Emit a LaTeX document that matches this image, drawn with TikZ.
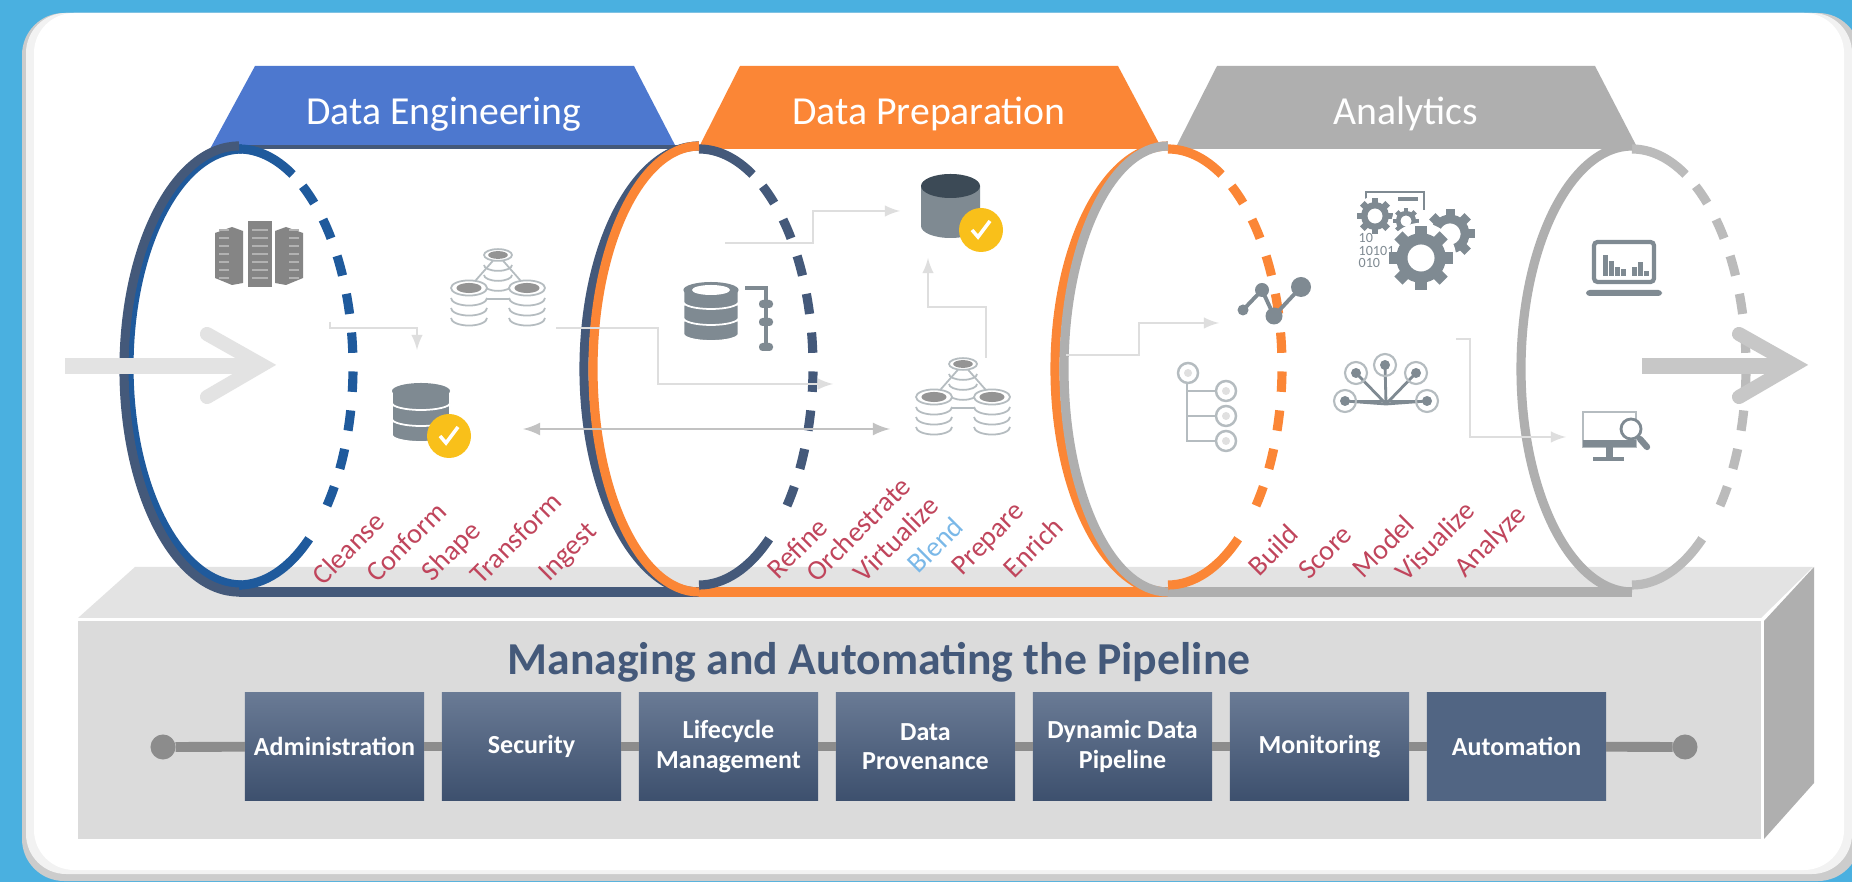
\documentclass[tikz,border=0pt]{standalone}
\usepackage{fontspec}
\setmainfont{Carlito}
\usepackage{tikz}
\usetikzlibrary{arrows}
\definecolor{skybg}{HTML}{4AB0E0}
\definecolor{slate}{HTML}{44597A}
\definecolor{dashblue}{HTML}{1F5A9C}
\definecolor{pipeorange}{HTML}{FB8636}
\definecolor{pipegray}{HTML}{AFAFAF}
\definecolor{engblue}{HTML}{4D78CF}
\definecolor{iconGray}{HTML}{7F8A92}
\definecolor{iconDark}{HTML}{3C4A56}
\definecolor{iconLight}{HTML}{B5BCC0}
\definecolor{wordred}{HTML}{C0455C}
\definecolor{wordblue}{HTML}{7AB8E8}
\definecolor{checkgold}{HTML}{F9C01A}
\tikzset{
    phase/.style={text=white, font=\fontsize{11.3}{13}\selectfont},
    word/.style={text=wordred, rotate=45, font=\fontsize{8}{9}\selectfont},
    stagebox/.style={minimum width=1.79cm, minimum height=1.07cm, inner sep=0pt, outer sep=0pt, align=center, text=white, top color=#1, bottom color=slate!90!black, font=\fontsize{7.4}{8.4}\selectfont\bfseries},
    stagebox/.default={slate!80!white},
    railend/.style={circle, fill=black!45, minimum size=0.25cm, inner sep=0pt, outer sep=0pt},
    side/.style={line width=2.6pt},
    sidedash/.style={line width=2.6pt, dash pattern=on 5.8pt off 5.3pt},
    thinarrow/.style={draw=black!13, line width=0.5pt, -latex},
    railline/.style={draw=black!45, line width=2.8pt},
    dbstack/.pic={
        \foreach \k in {-16,0,16}{
            \fill[iconGray, draw=white, line width=0.5pt] (-29,\k+6) -- (-29,\k-6) arc[start angle=180, end angle=360, x radius=29, y radius=7] -- (29,\k+6) arc[start angle=0, end angle=180, x radius=29, y radius=7] -- cycle;
        }
        \fill[iconGray] (0,22) ellipse (29 and 8);
    },
    dbring/.pic={
        \draw[iconLight, line width=0.5pt, fill=white] (0,0) ellipse (#1 and 0.42*#1);
        \fill[black!42] (0,0) ellipse (0.7*#1 and 0.28*#1);
        \foreach \k in {10,20,30}{
            \draw[iconLight, line width=0.5pt] (-#1,-\k) arc[start angle=180, end angle=360, x radius=#1, y radius=0.42*#1];
        }
    },
    cluster/.pic={
        \draw[iconLight, line width=0.5pt] (0,0) -- (-29,-33) (0,0) -- (29,-33) (-12,-44) -- (12,-44);
        \pic at (0,0) {dbring=14};
        \pic at (-29,-33) {dbring=18};
        \pic at (29,-33) {dbring=18};
    },
    checkbadge/.pic={
        \fill[checkgold] (0,0) circle (22);
        \draw[white, line width=1pt] (-9,0) -- (-3,-7) -- (9,9);
    },
    gear/.pic={
        \fill[white] (0,0) circle (1.1*#1);
        \foreach \a in {0,45,...,315}{
            \fill[iconGray, rotate=\a] (-0.18*#1,0.7*#1) rectangle (0.18*#1,#1);
        }
        \draw[iconGray, line width=0.1pt*#1] (0,0) circle (0.6*#1);
    }
}
\begin{document}
\begin{tikzpicture}[x=0.01cm, y=0.01cm]
\fill[skybg] (0,0) rectangle (1852,882);
\useasboundingbox (0,0) rectangle (1852,882);
\fill[black!20, rounded corners=0.42cm] (22,1) rectangle (1860,869);
\fill[black!5, rounded corners=0.4cm] (26,8) rectangle (1852,869);
\fill[white, rounded corners=0.4cm] (34,12) rectangle (1844,869);
\fill[black!11] (78,264) -- (135,315) -- (1813,315) -- (1761,264) -- cycle;
\fill[black!14] (78,43) rectangle (1761,261);
\fill[pipegray] (1764,261) -- (1814,315) -- (1814,99) -- (1764,43) -- cycle;
\fill[engblue] (255,816) -- (634,816) -- (677,733) -- (210,733) -- cycle;
\fill[pipeorange] (740,816) -- (1118,816) -- (1162,733) -- (698,733) -- cycle;
\fill[pipegray] (1217,816) -- (1595,816) -- (1638,733) -- (1175,733) -- cycle;
\node[phase] (engLabel) at (444,768) {Data Engineering};
\node[phase] (prepLabel) at (929,768) {Data Preparation};
\node[phase] (anaLabel) at (1406,768) {Analytics};
\draw[slate, line width=1.2pt] (239,735) -- (699,735);
\draw[pipeorange, line width=1.2pt] (699,735) -- (1168,735);
\draw[pipegray, line width=1.2pt] (1168,735) -- (1632,735);
\draw[side, slate] (239,290) -- (699,290);
\draw[side, pipeorange] (699,290) -- (1168,290);
\draw[side, pipegray] (1168,290) -- (1632,290);
\foreach \cx/\c in {239/dashblue, 699/slate, 1168/pipeorange, 1632/pipegray!85}{
    \draw[side, \c] (\cx,733) arc[start angle=90, end angle=62, x radius=114, y radius=218];
    \draw[side, \c] (\cx,297) arc[start angle=-90, end angle=-52, x radius=114, y radius=218];
    \draw[sidedash, \c] ({\cx+114*cos(56)},{515+218*sin(56)}) arc[start angle=56, end angle=-44, x radius=114, y radius=218];
}
\draw[side, dashblue] (242,733) arc[start angle=90, end angle=270, x radius=113, y radius=218];
\draw[side, slate] (239,736) arc[start angle=90, end angle=270, x radius=115, y radius=223];
\foreach \cx/\r/\c in {699/115/slate, 699/106/pipeorange, 1168/113/pipeorange, 1168/104/pipegray, 1632/111/pipegray}{
    \draw[side, \c] (\cx,736) arc[start angle=90, end angle=270, x radius=\r, y radius=223];
}
\coordinate (inTail) at (65,516);
\coordinate (inHead) at (252,516);
\coordinate (inUp) at (207,548);
\coordinate (inTip) at (262,517);
\coordinate (inDown) at (207,485);
\draw[black!11, line width=4.8pt] (inTail) -- (inHead);
\draw[black!11, line width=4pt, line cap=round] (inUp) -- (inTip) -- (inDown);
\coordinate (outTail) at (1642,516);
\coordinate (outHead) at (1785,516);
\coordinate (outUp) at (1739,548);
\coordinate (outTip) at (1794,517);
\coordinate (outDown) at (1739,485);
\draw[black!22, line width=4.8pt] (outTail) -- (outHead);
\draw[black!22, line width=4pt, line cap=round] (outUp) -- (outTip) -- (outDown);
\coordinate (cleanA) at (330,560);
\coordinate (cleanB) at (417,532);
\draw[thinarrow] (cleanA) -- ++(0,-6) -| (cleanB);
\coordinate (shapeA) at (556,554);
\coordinate (shapeB) at (833,498);
\draw[thinarrow] (shapeA) -- ++(102,0) |- (shapeB);
\coordinate (syncA) at (523,453);
\coordinate (syncB) at (890,453);
\draw[draw=black!24, line width=0.7pt, latex-latex] (syncA) -- (syncB);
\coordinate (refineA) at (725,639);
\coordinate (refineB) at (900,671);
\draw[thinarrow] (refineA) -- ++(88,0) |- (refineB);
\coordinate (prepA) at (986,524);
\coordinate (prepB) at (928,624);
\draw[thinarrow] (prepA) -- ++(0,51) -| (prepB);
\coordinate (buildA) at (1066,527);
\coordinate (buildB) at (1219,559);
\draw[thinarrow] (buildA) -- ++(73,0) |- (buildB);
\coordinate (vizA) at (1456,543);
\coordinate (vizB) at (1566,445);
\draw[thinarrow] (vizA) -- ++(14,0) |- (vizB);
\fill[black!48] (248,595) rectangle (272,661);
\fill[black!48] (215,649) -- (232,655) -- (243,651) -- (243,599) -- (232,597) -- (215,604) -- cycle;
\fill[black!48] (303,649) -- (286,655) -- (275,651) -- (275,599) -- (286,597) -- (303,604) -- cycle;
\foreach \y in {604,612,...,652}{
    \draw[black!30, line width=0.4pt] (252,\y) -- (268,\y);
    \draw[black!30, line width=0.4pt] (219,\y) -- (229,\y);
    \draw[black!30, line width=0.4pt] (289,\y) -- (299,\y);
}
\pic at (498,627) {cluster};
\pic at (421,469) {dbstack};
\pic at (449,446) {checkbadge};
\pic at (963,518) {cluster};
\pic[xscale=0.95] at (711,570) {dbstack};
\fill[white] (711,592) ellipse (19 and 5);
\draw[iconGray, line width=1pt] (745,594) -- (766,594) -- (766,535);
\foreach \y in {578,560,535}{
    \fill[iconGray, rounded corners=1pt] (759,\y-4) rectangle (773,\y+4);
}
\fill[iconGray] (921,696) -- (921,656) arc[start angle=180, end angle=360, x radius=29.5, y radius=12] -- (980,696) -- cycle;
\fill[iconDark] (950.5,696) ellipse (29.5 and 12);
\pic at (981,652) {checkbadge};
\draw[iconGray, line width=1.1pt] (1243,572) -- (1262,592) -- (1274,566) -- (1301,595);
\foreach \x/\y/\r in {1243/572/5.5, 1262/592/7, 1274/566/8.5, 1301/595/10}{
    \fill[iconGray] (\x,\y) circle (\r);
}
\draw[iconGray, line width=0.6pt] (1366,681) -- (1366,690) -- (1424,690) -- (1424,672);
\draw[iconGray, line width=1pt] (1398,683) -- (1418,683);
\pic at (1450,648) {gear=25};
\pic at (1375,666) {gear=18};
\pic at (1406,661) {gear=13};
\pic at (1421,624) {gear=32};
\node[anchor=west, inner sep=0pt, text=iconGray, font=\fontsize{4}{4}\selectfont] (binA) at (1358,644) {10};
\node[anchor=west, inner sep=0pt, text=iconGray, font=\fontsize{4}{4}\selectfont] (binB) at (1358,631) {10101};
\node[anchor=west, inner sep=0pt, text=iconGray, font=\fontsize{4}{4}\selectfont] (binC) at (1358,619) {010};
\draw[iconLight, line width=0.7pt] (1187,499) -- (1187,441) -- (1216,441) (1187,491) -- (1216,491) (1187,466) -- (1216,466);
\foreach \y in {491,466,441}{
    \draw[iconLight, line width=0.7pt] (1226,\y) circle (10);
    \fill[black!12] (1226,\y) circle (4);
}
\draw[iconLight, line width=0.7pt] (1188,509) circle (10);
\fill[black!12] (1188,509) circle (4);
\draw[iconGray, line width=0.8pt] (1345,481) -- (1427,481);
\foreach \x/\y in {1345/481, 1427/481, 1356/509, 1385/517, 1416/509}{
    \draw[iconGray, line width=0.8pt] (1386,478) -- (\x,\y);
    \draw[iconLight, line width=0.6pt] (\x,\y) circle (11);
    \fill[iconGray] (\x,\y) circle (5);
}
\draw[iconGray, line width=1.2pt, rounded corners=1pt] (1594,600) -- (1594,640) -- (1654,640) -- (1654,600) -- cycle;
\foreach \x/\h in {1603/21, 1609/15, 1615/9, 1621/7, 1632/9, 1638/14, 1644/5}{
    \fill[iconGray] (\x,606) rectangle (\x+5,606+\h);
}
\fill[iconGray, rounded corners=1pt] (1586,586) rectangle (1662,592);
\draw[iconLight, line width=0.6pt] (1583,470) rectangle (1636,435);
\fill[iconGray] (1583,442) rectangle (1636,435);
\fill[iconGray] (1606,435) rectangle (1613,424);
\fill[iconGray] (1593,425) rectangle (1624,421);
\draw[iconGray, line width=1.8pt, line cap=round] (1640,443) -- (1647,435);
\draw[iconGray, fill=white, line width=0.8pt] (1631,453) circle (10);
\foreach \x/\y/\labeltext in {348/334/Cleanse, 406/340/Conform, 452/330/Shape, 516/344/Transform, 569/329/Ingest, 797/334/Refine, 858/353/Orchestrate, 896/343/Virtualize, 989/342/Prepare, 1033/335/Enrich, 1273/332/Build, 1325/330/Score, 1383/336/Model, 1435/341/Visualize, 1491/340/Analyze}{
    \node[word] (\labeltext) at (\x,\y) {\labeltext};
}
\node[word, text=wordblue] (Blend) at (935,337) {Blend};
\node[text=slate, font=\fontsize{13}{15}\selectfont\bfseries] (pipeTitle) at (879,220) {Managing and Automating the Pipeline};
\foreach \i/\x/\labeltext in {1/245/Administration, 2/442/Security, 3/639/{Lifecycle\\Management}, 4/836/{Data\\Provenance}, 5/1033/{Dynamic Data\\Pipeline}, 6/1230/Monitoring}{
    \node[stagebox] (box\i) at (\x+89.5,135.5) {\labeltext};
}
\node[stagebox, top color=slate!93!white, bottom color=slate!93!white] (box7) at (1516.5,135.5) {Automation};
\node[railend] (railL) at (163,135) {};
\node[railend] (railR) at (1685,135) {};
\foreach \a/\b in {railL/box1, box1/box2, box2/box3, box3/box4, box4/box5, box5/box6, box6/box7, box7/railR}{
    \draw[railline] (\a) -- (\b);
}
\end{tikzpicture}
\end{document}
